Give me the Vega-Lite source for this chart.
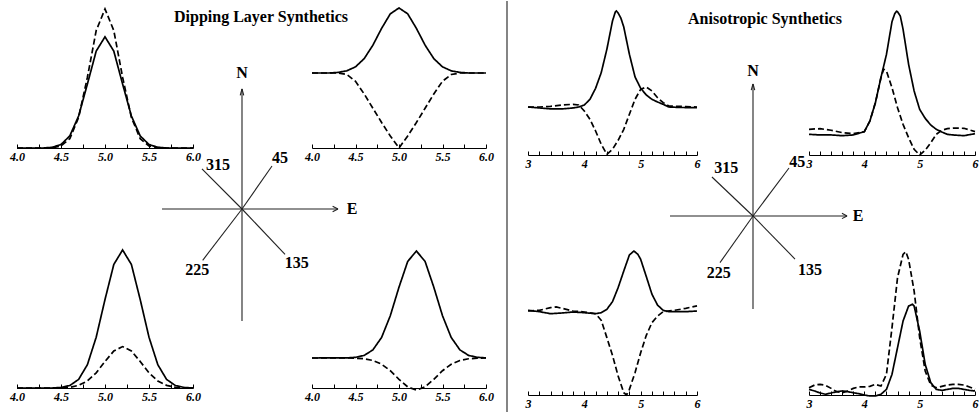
{
  "$schema": "https://vega.github.io/schema/vega-lite/v6.json",
  "background": "white",
  "padding": {"left": 9, "top": 0, "right": 0, "bottom": 0},
  "columns": 7,
  "spacing": {"row": 0, "column": 0},
  "bounds": "flush",
  "align": "each",
  "config": {
    "view": {"stroke": null},
    "axis": {"domainColor": "black", "domainWidth": 1.2, "tickColor": "black", "tickWidth": 1, "tickSize": -4, "labelColor": "black", "labelFont": "Liberation Serif", "labelFontStyle": "italic", "labelFontWeight": "bold", "labelFontSize": 12, "labelPadding": 7, "labelFlush": false, "labelOverlap": false, "grid": false}
  },
  "datasets": {
    "tl": [
      {"x":4.0,"y":0,"s":"solid"},{"x":4.3,"y":0,"s":"solid"},{"x":4.4,"y":0.005,"s":"solid"},{"x":4.5,"y":0.025,"s":"solid"},{"x":4.6,"y":0.087,"s":"solid"},{"x":4.7,"y":0.23,"s":"solid"},{"x":4.8,"y":0.46,"s":"solid"},{"x":4.9,"y":0.697,"s":"solid"},{"x":5.0,"y":0.8,"s":"solid"},{"x":5.1,"y":0.697,"s":"solid"},{"x":5.2,"y":0.46,"s":"solid"},{"x":5.3,"y":0.23,"s":"solid"},{"x":5.4,"y":0.087,"s":"solid"},{"x":5.5,"y":0.025,"s":"solid"},{"x":5.6,"y":0.005,"s":"solid"},{"x":5.7,"y":0,"s":"solid"},{"x":6.0,"y":0,"s":"solid"},
      {"x":4.0,"y":0,"s":"dashed"},{"x":4.3,"y":0,"s":"dashed"},{"x":4.4,"y":0.002,"s":"dashed"},{"x":4.5,"y":0.015,"s":"dashed"},{"x":4.6,"y":0.067,"s":"dashed"},{"x":4.7,"y":0.219,"s":"dashed"},{"x":4.8,"y":0.509,"s":"dashed"},{"x":4.9,"y":0.845,"s":"dashed"},{"x":5.0,"y":1.0,"s":"dashed"},{"x":5.1,"y":0.845,"s":"dashed"},{"x":5.2,"y":0.509,"s":"dashed"},{"x":5.3,"y":0.219,"s":"dashed"},{"x":5.4,"y":0.067,"s":"dashed"},{"x":5.5,"y":0.015,"s":"dashed"},{"x":5.6,"y":0.002,"s":"dashed"},{"x":5.7,"y":0,"s":"dashed"},{"x":6.0,"y":0,"s":"dashed"}
    ],
    "tr": [
      {"x":4.0,"y":0,"s":"solid"},{"x":4.2,"y":0,"s":"solid"},{"x":4.3,"y":0.008,"s":"solid"},{"x":4.4,"y":0.029,"s":"solid"},{"x":4.5,"y":0.082,"s":"solid"},{"x":4.6,"y":0.192,"s":"solid"},{"x":4.7,"y":0.371,"s":"solid"},{"x":4.8,"y":0.595,"s":"solid"},{"x":4.9,"y":0.789,"s":"solid"},{"x":5.0,"y":0.867,"s":"solid"},{"x":5.1,"y":0.789,"s":"solid"},{"x":5.2,"y":0.595,"s":"solid"},{"x":5.3,"y":0.371,"s":"solid"},{"x":5.4,"y":0.192,"s":"solid"},{"x":5.5,"y":0.082,"s":"solid"},{"x":5.6,"y":0.029,"s":"solid"},{"x":5.7,"y":0.008,"s":"solid"},{"x":5.8,"y":0,"s":"solid"},{"x":6.0,"y":0,"s":"solid"},
      {"x":4.0,"y":0,"s":"dashed"},{"x":4.3,"y":0,"s":"dashed"},{"x":4.4,"y":-0.02,"s":"dashed"},{"x":4.5,"y":-0.11,"s":"dashed"},{"x":4.6,"y":-0.28,"s":"dashed"},{"x":4.7,"y":-0.47,"s":"dashed"},{"x":4.8,"y":-0.66,"s":"dashed"},{"x":4.9,"y":-0.84,"s":"dashed"},{"x":5.0,"y":-1.0,"s":"dashed"},{"x":5.1,"y":-0.84,"s":"dashed"},{"x":5.2,"y":-0.66,"s":"dashed"},{"x":5.3,"y":-0.47,"s":"dashed"},{"x":5.4,"y":-0.28,"s":"dashed"},{"x":5.5,"y":-0.11,"s":"dashed"},{"x":5.6,"y":-0.02,"s":"dashed"},{"x":5.7,"y":0,"s":"dashed"},{"x":6.0,"y":0,"s":"dashed"}
    ],
    "bl": [
      {"x":4.0,"y":0,"s":"solid"},{"x":4.4,"y":0,"s":"solid"},{"x":4.5,"y":0.004,"s":"solid"},{"x":4.6,"y":0.018,"s":"solid"},{"x":4.7,"y":0.062,"s":"solid"},{"x":4.8,"y":0.169,"s":"solid"},{"x":4.9,"y":0.368,"s":"solid"},{"x":5.0,"y":0.641,"s":"solid"},{"x":5.1,"y":0.895,"s":"solid"},{"x":5.2,"y":1.0,"s":"solid"},{"x":5.3,"y":0.895,"s":"solid"},{"x":5.4,"y":0.641,"s":"solid"},{"x":5.5,"y":0.368,"s":"solid"},{"x":5.6,"y":0.169,"s":"solid"},{"x":5.7,"y":0.062,"s":"solid"},{"x":5.8,"y":0.018,"s":"solid"},{"x":5.9,"y":0.004,"s":"solid"},{"x":6.0,"y":0,"s":"solid"},
      {"x":4.0,"y":0,"s":"dashed"},{"x":4.5,"y":0,"s":"dashed"},{"x":4.6,"y":0.005,"s":"dashed"},{"x":4.7,"y":0.019,"s":"dashed"},{"x":4.8,"y":0.051,"s":"dashed"},{"x":4.9,"y":0.11,"s":"dashed"},{"x":5.0,"y":0.192,"s":"dashed"},{"x":5.1,"y":0.268,"s":"dashed"},{"x":5.2,"y":0.30,"s":"dashed"},{"x":5.3,"y":0.268,"s":"dashed"},{"x":5.4,"y":0.192,"s":"dashed"},{"x":5.5,"y":0.11,"s":"dashed"},{"x":5.6,"y":0.051,"s":"dashed"},{"x":5.7,"y":0.019,"s":"dashed"},{"x":5.8,"y":0.005,"s":"dashed"},{"x":5.9,"y":0,"s":"dashed"},{"x":6.0,"y":0,"s":"dashed"}
    ],
    "br": [
      {"x":4.0,"y":0,"s":"solid"},{"x":4.4,"y":0.001,"s":"solid"},{"x":4.5,"y":0.006,"s":"solid"},{"x":4.6,"y":0.024,"s":"solid"},{"x":4.7,"y":0.076,"s":"solid"},{"x":4.8,"y":0.192,"s":"solid"},{"x":4.9,"y":0.395,"s":"solid"},{"x":5.0,"y":0.662,"s":"solid"},{"x":5.1,"y":0.902,"s":"solid"},{"x":5.2,"y":1.0,"s":"solid"},{"x":5.3,"y":0.902,"s":"solid"},{"x":5.4,"y":0.662,"s":"solid"},{"x":5.5,"y":0.395,"s":"solid"},{"x":5.6,"y":0.192,"s":"solid"},{"x":5.7,"y":0.076,"s":"solid"},{"x":5.8,"y":0.024,"s":"solid"},{"x":5.9,"y":0.006,"s":"solid"},{"x":6.0,"y":0.001,"s":"solid"},
      {"x":4.0,"y":0,"s":"dashed"},{"x":4.4,"y":0,"s":"dashed"},{"x":4.5,"y":-0.002,"s":"dashed"},{"x":4.6,"y":-0.007,"s":"dashed"},{"x":4.7,"y":-0.023,"s":"dashed"},{"x":4.8,"y":-0.058,"s":"dashed"},{"x":4.9,"y":-0.119,"s":"dashed"},{"x":5.0,"y":-0.199,"s":"dashed"},{"x":5.1,"y":-0.27,"s":"dashed"},{"x":5.2,"y":-0.30,"s":"dashed"},{"x":5.3,"y":-0.27,"s":"dashed"},{"x":5.4,"y":-0.199,"s":"dashed"},{"x":5.5,"y":-0.119,"s":"dashed"},{"x":5.6,"y":-0.058,"s":"dashed"},{"x":5.7,"y":-0.023,"s":"dashed"},{"x":5.8,"y":-0.007,"s":"dashed"},{"x":5.9,"y":-0.002,"s":"dashed"},{"x":6.0,"y":0,"s":"dashed"}
    ],
    "rtl": [
      {"x":3.0,"y":0,"s":"solid"},{"x":3.2,"y":-0.01,"s":"solid"},{"x":3.4,"y":-0.02,"s":"solid"},{"x":3.6,"y":-0.02,"s":"solid"},{"x":3.8,"y":-0.01,"s":"solid"},{"x":3.9,"y":0,"s":"solid"},{"x":4.0,"y":0.021,"s":"solid"},{"x":4.1,"y":0.08,"s":"solid"},{"x":4.2,"y":0.195,"s":"solid"},{"x":4.3,"y":0.358,"s":"solid"},{"x":4.4,"y":0.601,"s":"solid"},{"x":4.5,"y":0.896,"s":"solid"},{"x":4.55,"y":0.99,"s":"solid"},{"x":4.57,"y":1.0,"s":"solid"},{"x":4.6,"y":0.979,"s":"solid"},{"x":4.65,"y":0.924,"s":"solid"},{"x":4.7,"y":0.833,"s":"solid"},{"x":4.8,"y":0.549,"s":"solid"},{"x":4.9,"y":0.313,"s":"solid"},{"x":5.0,"y":0.195,"s":"solid"},{"x":5.1,"y":0.125,"s":"solid"},{"x":5.2,"y":0.08,"s":"solid"},{"x":5.3,"y":0.052,"s":"solid"},{"x":5.4,"y":0.028,"s":"solid"},{"x":5.5,"y":0,"s":"solid"},{"x":5.7,"y":-0.005,"s":"solid"},{"x":6.0,"y":-0.007,"s":"solid"},
      {"x":3.0,"y":0,"s":"dashed"},{"x":3.2,"y":0,"s":"dashed"},{"x":3.4,"y":0.007,"s":"dashed"},{"x":3.6,"y":0.021,"s":"dashed"},{"x":3.8,"y":0.028,"s":"dashed"},{"x":3.9,"y":0.021,"s":"dashed"},{"x":4.0,"y":-0.042,"s":"dashed"},{"x":4.1,"y":-0.128,"s":"dashed"},{"x":4.2,"y":-0.25,"s":"dashed"},{"x":4.3,"y":-0.389,"s":"dashed"},{"x":4.4,"y":-0.493,"s":"dashed"},{"x":4.5,"y":-0.441,"s":"dashed"},{"x":4.6,"y":-0.347,"s":"dashed"},{"x":4.7,"y":-0.233,"s":"dashed"},{"x":4.8,"y":-0.076,"s":"dashed"},{"x":4.9,"y":0.08,"s":"dashed"},{"x":5.0,"y":0.184,"s":"dashed"},{"x":5.1,"y":0.208,"s":"dashed"},{"x":5.2,"y":0.167,"s":"dashed"},{"x":5.3,"y":0.097,"s":"dashed"},{"x":5.4,"y":0.045,"s":"dashed"},{"x":5.5,"y":0.01,"s":"dashed"},{"x":5.8,"y":0.005,"s":"dashed"},{"x":6.0,"y":0,"s":"dashed"}
    ],
    "rtr": [
      {"x":3.0,"y":0,"s":"solid"},{"x":3.2,"y":-0.005,"s":"solid"},{"x":3.4,"y":-0.005,"s":"solid"},{"x":3.6,"y":-0.011,"s":"solid"},{"x":3.8,"y":-0.005,"s":"solid"},{"x":4.0,"y":0.022,"s":"solid"},{"x":4.1,"y":0.108,"s":"solid"},{"x":4.2,"y":0.257,"s":"solid"},{"x":4.3,"y":0.461,"s":"solid"},{"x":4.4,"y":0.65,"s":"solid"},{"x":4.5,"y":0.916,"s":"solid"},{"x":4.55,"y":0.981,"s":"solid"},{"x":4.58,"y":1.0,"s":"solid"},{"x":4.6,"y":0.997,"s":"solid"},{"x":4.65,"y":0.962,"s":"solid"},{"x":4.7,"y":0.854,"s":"solid"},{"x":4.8,"y":0.569,"s":"solid"},{"x":4.9,"y":0.352,"s":"solid"},{"x":5.0,"y":0.203,"s":"solid"},{"x":5.1,"y":0.13,"s":"solid"},{"x":5.2,"y":0.076,"s":"solid"},{"x":5.3,"y":0.041,"s":"solid"},{"x":5.4,"y":0.019,"s":"solid"},{"x":5.5,"y":0,"s":"solid"},{"x":5.6,"y":-0.005,"s":"solid"},{"x":5.8,"y":-0.011,"s":"solid"},{"x":6.0,"y":0.005,"s":"solid"},
      {"x":3.0,"y":0.041,"s":"dashed"},{"x":3.2,"y":0.046,"s":"dashed"},{"x":3.4,"y":0.033,"s":"dashed"},{"x":3.6,"y":0.014,"s":"dashed"},{"x":3.8,"y":0.005,"s":"dashed"},{"x":4.0,"y":0.022,"s":"dashed"},{"x":4.1,"y":0.108,"s":"dashed"},{"x":4.2,"y":0.257,"s":"dashed"},{"x":4.3,"y":0.46,"s":"dashed"},{"x":4.35,"y":0.53,"s":"dashed"},{"x":4.4,"y":0.515,"s":"dashed"},{"x":4.5,"y":0.379,"s":"dashed"},{"x":4.6,"y":0.217,"s":"dashed"},{"x":4.7,"y":0.081,"s":"dashed"},{"x":4.8,"y":-0.027,"s":"dashed"},{"x":4.9,"y":-0.122,"s":"dashed"},{"x":5.0,"y":-0.168,"s":"dashed"},{"x":5.1,"y":-0.13,"s":"dashed"},{"x":5.2,"y":-0.068,"s":"dashed"},{"x":5.3,"y":0,"s":"dashed"},{"x":5.4,"y":0.033,"s":"dashed"},{"x":5.5,"y":0.046,"s":"dashed"},{"x":5.6,"y":0.051,"s":"dashed"},{"x":5.8,"y":0.049,"s":"dashed"},{"x":6.0,"y":0.022,"s":"dashed"}
    ],
    "rbl": [
      {"x":3.0,"y":0.008,"s":"solid"},{"x":3.2,"y":-0.008,"s":"solid"},{"x":3.4,"y":-0.032,"s":"solid"},{"x":3.6,"y":-0.024,"s":"solid"},{"x":3.8,"y":-0.012,"s":"solid"},{"x":4.0,"y":-0.02,"s":"solid"},{"x":4.2,"y":-0.032,"s":"solid"},{"x":4.3,"y":-0.02,"s":"solid"},{"x":4.4,"y":0.02,"s":"solid"},{"x":4.5,"y":0.111,"s":"solid"},{"x":4.6,"y":0.278,"s":"solid"},{"x":4.7,"y":0.476,"s":"solid"},{"x":4.8,"y":0.667,"s":"solid"},{"x":4.88,"y":0.714,"s":"solid"},{"x":4.95,"y":0.675,"s":"solid"},{"x":5.0,"y":0.615,"s":"solid"},{"x":5.1,"y":0.41,"s":"solid"},{"x":5.2,"y":0.2,"s":"solid"},{"x":5.3,"y":0.07,"s":"solid"},{"x":5.4,"y":0.008,"s":"solid"},{"x":5.5,"y":-0.008,"s":"solid"},{"x":5.8,"y":-0.008,"s":"solid"},{"x":6.0,"y":0,"s":"solid"},
      {"x":3.0,"y":0,"s":"dashed"},{"x":3.2,"y":0.008,"s":"dashed"},{"x":3.4,"y":0.04,"s":"dashed"},{"x":3.5,"y":0.048,"s":"dashed"},{"x":3.6,"y":0.032,"s":"dashed"},{"x":3.8,"y":0,"s":"dashed"},{"x":4.0,"y":-0.012,"s":"dashed"},{"x":4.2,"y":-0.032,"s":"dashed"},{"x":4.3,"y":-0.111,"s":"dashed"},{"x":4.4,"y":-0.317,"s":"dashed"},{"x":4.5,"y":-0.528,"s":"dashed"},{"x":4.6,"y":-0.774,"s":"dashed"},{"x":4.7,"y":-0.972,"s":"dashed"},{"x":4.75,"y":-1.0,"s":"dashed"},{"x":4.8,"y":-0.933,"s":"dashed"},{"x":4.9,"y":-0.734,"s":"dashed"},{"x":5.0,"y":-0.496,"s":"dashed"},{"x":5.1,"y":-0.29,"s":"dashed"},{"x":5.2,"y":-0.139,"s":"dashed"},{"x":5.3,"y":-0.06,"s":"dashed"},{"x":5.4,"y":-0.008,"s":"dashed"},{"x":5.6,"y":0.008,"s":"dashed"},{"x":5.8,"y":0.032,"s":"dashed"},{"x":6.0,"y":0.06,"s":"dashed"}
    ],
    "rbr": [
      {"x":3.0,"y":0.039,"s":"solid"},{"x":3.1,"y":0.028,"s":"solid"},{"x":3.2,"y":0.014,"s":"solid"},{"x":3.3,"y":0.005,"s":"solid"},{"x":3.4,"y":0.014,"s":"solid"},{"x":3.5,"y":0.023,"s":"solid"},{"x":3.6,"y":0.028,"s":"solid"},{"x":3.7,"y":0.023,"s":"solid"},{"x":3.8,"y":0.016,"s":"solid"},{"x":3.9,"y":0.009,"s":"solid"},{"x":4.0,"y":0,"s":"solid"},{"x":4.1,"y":-0.007,"s":"solid"},{"x":4.2,"y":-0.007,"s":"solid"},{"x":4.3,"y":0.005,"s":"solid"},{"x":4.4,"y":0.039,"s":"solid"},{"x":4.5,"y":0.144,"s":"solid"},{"x":4.6,"y":0.329,"s":"solid"},{"x":4.7,"y":0.514,"s":"solid"},{"x":4.8,"y":0.618,"s":"solid"},{"x":4.87,"y":0.63,"s":"solid"},{"x":4.9,"y":0.618,"s":"solid"},{"x":5.0,"y":0.444,"s":"solid"},{"x":5.1,"y":0.213,"s":"solid"},{"x":5.2,"y":0.086,"s":"solid"},{"x":5.3,"y":0.039,"s":"solid"},{"x":5.4,"y":0.032,"s":"solid"},{"x":5.5,"y":0.039,"s":"solid"},{"x":5.6,"y":0.046,"s":"solid"},{"x":5.7,"y":0.046,"s":"solid"},{"x":5.8,"y":0.039,"s":"solid"},{"x":5.9,"y":0.032,"s":"solid"},{"x":6.0,"y":0.028,"s":"solid"},
      {"x":3.0,"y":0.051,"s":"dashed"},{"x":3.1,"y":0.069,"s":"dashed"},{"x":3.2,"y":0.074,"s":"dashed"},{"x":3.3,"y":0.067,"s":"dashed"},{"x":3.4,"y":0.046,"s":"dashed"},{"x":3.5,"y":0.023,"s":"dashed"},{"x":3.6,"y":0.016,"s":"dashed"},{"x":3.7,"y":0.028,"s":"dashed"},{"x":3.8,"y":0.046,"s":"dashed"},{"x":3.9,"y":0.056,"s":"dashed"},{"x":4.0,"y":0.056,"s":"dashed"},{"x":4.1,"y":0.06,"s":"dashed"},{"x":4.2,"y":0.074,"s":"dashed"},{"x":4.3,"y":0.0625,"s":"dashed"},{"x":4.4,"y":0.144,"s":"dashed"},{"x":4.5,"y":0.468,"s":"dashed"},{"x":4.6,"y":0.815,"s":"dashed"},{"x":4.7,"y":0.977,"s":"dashed"},{"x":4.75,"y":0.995,"s":"dashed"},{"x":4.8,"y":0.942,"s":"dashed"},{"x":4.9,"y":0.722,"s":"dashed"},{"x":5.0,"y":0.398,"s":"dashed"},{"x":5.1,"y":0.167,"s":"dashed"},{"x":5.2,"y":0.069,"s":"dashed"},{"x":5.3,"y":0.051,"s":"dashed"},{"x":5.4,"y":0.06,"s":"dashed"},{"x":5.5,"y":0.069,"s":"dashed"},{"x":5.6,"y":0.074,"s":"dashed"},{"x":5.7,"y":0.074,"s":"dashed"},{"x":5.8,"y":0.069,"s":"dashed"},{"x":5.9,"y":0.056,"s":"dashed"},{"x":6.0,"y":0.039,"s":"dashed"}
    ],
    "cl_lines": [
      {"x":0,"y":-1.273,"x2":0,"y2":1.364},
      {"x":-0.909,"y":0,"x2":1.091,"y2":0},
      {"x":0,"y":0,"x2":0.341,"y2":0.489},
      {"x":0,"y":0,"x2":-0.455,"y2":0.455},
      {"x":0,"y":0,"x2":0.489,"y2":-0.515},
      {"x":0,"y":0,"x2":-0.447,"y2":-0.583},
      {"x":1.091,"y":0,"x2":1.03,"y2":0.03},
      {"x":1.091,"y":0,"x2":1.03,"y2":-0.03},
      {"x":0,"y":1.364,"x2":-0.02,"y2":1.29},
      {"x":0,"y":1.364,"x2":0.02,"y2":1.29}
    ],
    "cl_labels_top": [
      {"x":0,"y":1.545,"t":"N"},
      {"x":1.25,"y":0,"t":"E"},
      {"x":-0.273,"y":0.5,"t":"315"},
      {"x":0.432,"y":0.576,"t":"45"}
    ],
    "cl_labels_bottom": [
      {"x":0.621,"y":-0.61,"t":"135"},
      {"x":-0.508,"y":-0.697,"t":"225"}
    ],
    "cl_title": [{"x":0.216,"y":2.182,"t":"Dipping Layer Synthetics"}],
    "cr_lines": [
      {"x":0,"y":-1.057,"x2":0,"y2":1.5},
      {"x":-0.943,"y":0,"x2":1.068,"y2":0},
      {"x":0,"y":0,"x2":0.409,"y2":0.545},
      {"x":0,"y":0,"x2":-0.466,"y2":0.443},
      {"x":0,"y":0,"x2":0.477,"y2":-0.489},
      {"x":0,"y":0,"x2":-0.375,"y2":-0.53},
      {"x":1.068,"y":0,"x2":1.01,"y2":0.03},
      {"x":1.068,"y":0,"x2":1.01,"y2":-0.03},
      {"x":0,"y":1.5,"x2":-0.02,"y2":1.43},
      {"x":0,"y":1.5,"x2":0.02,"y2":1.43}
    ],
    "cr_labels_top": [
      {"x":0,"y":1.648,"t":"N"},
      {"x":1.193,"y":0,"t":"E"},
      {"x":-0.303,"y":0.542,"t":"315"},
      {"x":0.503,"y":0.617,"t":"45"}
    ],
    "cr_labels_bottom": [
      {"x":0.648,"y":-0.617,"t":"135"},
      {"x":-0.39,"y":-0.644,"t":"225"}
    ],
    "cr_title": [{"x":0.136,"y":2.239,"t":"Anisotropic Synthetics"}],
    "div": [{"x":0.5,"y":0,"y2":1}]
  },
  "concat": [
    {
      "width": 176, "height": 147, "data": {"name": "tl"},
      "mark": {"type": "line", "color": "black", "strokeWidth": 1.7},
      "encoding": {
        "x": {"field": "x", "type": "quantitative", "scale": {"domain": [4, 6], "nice": false, "zero": false}, "axis": {"title": null, "values": [4,4.25,4.5,4.75,5,5.25,5.5,5.75,6], "labelExpr": "(datum.value*2) % 1 == 0 ? format(datum.value, '.1f') : ''"}},
        "y": {"field": "y", "type": "quantitative", "scale": {"domain": [0, 1.0576], "nice": false, "zero": false}, "axis": null},
        "strokeDash": {"field": "s", "type": "nominal", "scale": {"domain": ["solid", "dashed"], "range": [[1, 0], [6, 3]]}, "legend": null}
      }
    },
    {
      "width": 119, "height": 154,
      "layer": [
        {
          "data": {"name": "cl_lines"},
          "mark": {"type": "rule", "color": "#222", "strokeWidth": 1.1},
          "encoding": {
            "x": {"field": "x", "type": "quantitative", "scale": {"domain": [-0.5568, 0.7955], "nice": false, "zero": false}, "axis": null},
            "y": {"field": "y", "type": "quantitative", "scale": {"domain": [0.6136, 2.3636], "nice": false, "zero": false}, "axis": null},
            "x2": {"field": "x2"}, "y2": {"field": "y2"}
          }
        },
        {
          "data": {"name": "cl_labels_top"},
          "mark": {"type": "text", "font": "Liberation Serif", "fontWeight": "bold", "fontSize": 16, "color": "black", "baseline": "middle", "align": "center"},
          "encoding": {
            "x": {"field": "x", "type": "quantitative", "scale": {"domain": [-0.5568, 0.7955], "nice": false, "zero": false}, "axis": null},
            "y": {"field": "y", "type": "quantitative", "scale": {"domain": [0.6136, 2.3636], "nice": false, "zero": false}, "axis": null},
            "text": {"field": "t"}
          }
        },
        {
          "data": {"name": "cl_title"},
          "mark": {"type": "text", "font": "Liberation Serif", "fontWeight": "bold", "fontSize": 16, "color": "black", "baseline": "middle", "align": "center"},
          "encoding": {
            "x": {"field": "x", "type": "quantitative", "scale": {"domain": [-0.5568, 0.7955], "nice": false, "zero": false}, "axis": null},
            "y": {"field": "y", "type": "quantitative", "scale": {"domain": [0.6136, 2.3636], "nice": false, "zero": false}, "axis": null},
            "text": {"field": "t"}
          }
        }
      ]
    },
    {
      "width": 174, "height": 147, "data": {"name": "tr"},
      "mark": {"type": "line", "color": "black", "strokeWidth": 1.7},
      "encoding": {
        "x": {"field": "x", "type": "quantitative", "scale": {"domain": [4, 6], "nice": false, "zero": false}, "axis": {"title": null, "values": [4,4.25,4.5,4.75,5,5.25,5.5,5.75,6], "labelExpr": "(datum.value*2) % 1 == 0 ? format(datum.value, '.1f') : ''"}},
        "y": {"field": "y", "type": "quantitative", "scale": {"domain": [-1, 0.96], "nice": false, "zero": false}, "axis": null},
        "strokeDash": {"field": "s", "type": "nominal", "scale": {"domain": ["solid", "dashed"], "range": [[1, 0], [6, 3]]}, "legend": null}
      }
    },
    {
      "width": 42, "height": 154, "data": {"name": "div"},
      "mark": {"type": "rule", "color": "#333", "strokeWidth": 1.2},
      "encoding": {
        "x": {"field": "x", "type": "quantitative", "scale": {"domain": [0, 1]}, "axis": null},
        "y": {"field": "y", "type": "quantitative", "scale": {"domain": [0, 1]}, "axis": null},
        "y2": {"field": "y2"}
      }
    },
    {
      "width": 169, "height": 154, "data": {"name": "rtl"},
      "mark": {"type": "line", "color": "black", "strokeWidth": 1.7},
      "encoding": {
        "x": {"field": "x", "type": "quantitative", "scale": {"domain": [3, 6], "nice": false, "zero": false}, "axis": {"title": null, "values": [3,3.2,3.4,3.6,3.8,4,4.2,4.4,4.6,4.8,5,5.2,5.4,5.6,5.8,6], "labelExpr": "abs(datum.value - round(datum.value)) < 0.01 ? format(datum.value, 'd') : ''"}},
        "y": {"field": "y", "type": "quantitative", "scale": {"domain": [-0.5, 1.104], "nice": false, "zero": false}, "axis": null},
        "strokeDash": {"field": "s", "type": "nominal", "scale": {"domain": ["solid", "dashed"], "range": [[1, 0], [6, 3]]}, "legend": null}
      }
    },
    {
      "width": 112, "height": 154,
      "layer": [
        {
          "data": {"name": "cr_lines"},
          "mark": {"type": "rule", "color": "#222", "strokeWidth": 1.1},
          "encoding": {
            "x": {"field": "x", "type": "quantitative", "scale": {"domain": [-0.636, 0.636], "nice": false, "zero": false}, "axis": null},
            "y": {"field": "y", "type": "quantitative", "scale": {"domain": [0.693, 2.443], "nice": false, "zero": false}, "axis": null},
            "x2": {"field": "x2"}, "y2": {"field": "y2"}
          }
        },
        {
          "data": {"name": "cr_labels_top"},
          "mark": {"type": "text", "font": "Liberation Serif", "fontWeight": "bold", "fontSize": 16, "color": "black", "baseline": "middle", "align": "center"},
          "encoding": {
            "x": {"field": "x", "type": "quantitative", "scale": {"domain": [-0.636, 0.636], "nice": false, "zero": false}, "axis": null},
            "y": {"field": "y", "type": "quantitative", "scale": {"domain": [0.693, 2.443], "nice": false, "zero": false}, "axis": null},
            "text": {"field": "t"}
          }
        },
        {
          "data": {"name": "cr_title"},
          "mark": {"type": "text", "font": "Liberation Serif", "fontWeight": "bold", "fontSize": 16, "color": "black", "baseline": "middle", "align": "center"},
          "encoding": {
            "x": {"field": "x", "type": "quantitative", "scale": {"domain": [-0.636, 0.636], "nice": false, "zero": false}, "axis": null},
            "y": {"field": "y", "type": "quantitative", "scale": {"domain": [0.693, 2.443], "nice": false, "zero": false}, "axis": null},
            "text": {"field": "t"}
          }
        }
      ]
    },
    {
      "width": 166, "height": 154, "data": {"name": "rtr"},
      "mark": {"type": "line", "color": "black", "strokeWidth": 1.7},
      "encoding": {
        "x": {"field": "x", "type": "quantitative", "scale": {"domain": [3, 6], "nice": false, "zero": false}, "axis": {"title": null, "values": [3,3.2,3.4,3.6,3.8,4,4.2,4.4,4.6,4.8,5,5.2,5.4,5.6,5.8,6], "labelExpr": "abs(datum.value - round(datum.value)) < 0.01 ? format(datum.value, 'd') : ''"}},
        "y": {"field": "y", "type": "quantitative", "scale": {"domain": [-0.168, 1.084], "nice": false, "zero": false}, "axis": null},
        "strokeDash": {"field": "s", "type": "nominal", "scale": {"domain": ["solid", "dashed"], "range": [[1, 0], [6, 3]]}, "legend": null}
      }
    },
    {
      "width": 176, "height": 233, "data": {"name": "bl"},
      "mark": {"type": "line", "color": "black", "strokeWidth": 1.7},
      "encoding": {
        "x": {"field": "x", "type": "quantitative", "scale": {"domain": [4, 6], "nice": false, "zero": false}, "axis": {"title": null, "values": [4,4.25,4.5,4.75,5,5.25,5.5,5.75,6], "labelExpr": "(datum.value*2) % 1 == 0 ? format(datum.value, '.1f') : ''"}},
        "y": {"field": "y", "type": "quantitative", "scale": {"domain": [0, 1.688], "nice": false, "zero": false}, "axis": null},
        "strokeDash": {"field": "s", "type": "nominal", "scale": {"domain": ["solid", "dashed"], "range": [[1, 0], [6, 3]]}, "legend": null}
      }
    },
    {
      "width": 119, "height": 258, "data": {"name": "cl_labels_bottom"},
      "mark": {"type": "text", "font": "Liberation Serif", "fontWeight": "bold", "fontSize": 16, "color": "black", "baseline": "middle", "align": "center"},
      "encoding": {
        "x": {"field": "x", "type": "quantitative", "scale": {"domain": [-0.5568, 0.7955], "nice": false, "zero": false}, "axis": null},
        "y": {"field": "y", "type": "quantitative", "scale": {"domain": [-2.318, 0.6136], "nice": false, "zero": false}, "axis": null},
        "text": {"field": "t"}
      }
    },
    {
      "width": 174, "height": 233, "data": {"name": "br"},
      "mark": {"type": "line", "color": "black", "strokeWidth": 1.7},
      "encoding": {
        "x": {"field": "x", "type": "quantitative", "scale": {"domain": [4, 6], "nice": false, "zero": false}, "axis": {"title": null, "values": [4,4.25,4.5,4.75,5,5.25,5.5,5.75,6], "labelExpr": "(datum.value*2) % 1 == 0 ? format(datum.value, '.1f') : ''"}},
        "y": {"field": "y", "type": "quantitative", "scale": {"domain": [-0.2804, 1.897], "nice": false, "zero": false}, "axis": null},
        "strokeDash": {"field": "s", "type": "nominal", "scale": {"domain": ["solid", "dashed"], "range": [[1, 0], [6, 3]]}, "legend": null}
      }
    },
    {
      "width": 42, "height": 258, "data": {"name": "div"},
      "mark": {"type": "rule", "color": "#333", "strokeWidth": 1.2},
      "encoding": {
        "x": {"field": "x", "type": "quantitative", "scale": {"domain": [0, 1]}, "axis": null},
        "y": {"field": "y", "type": "quantitative", "scale": {"domain": [0, 1]}, "axis": null},
        "y2": {"field": "y2"}
      }
    },
    {
      "width": 169, "height": 240, "data": {"name": "rbl"},
      "mark": {"type": "line", "color": "black", "strokeWidth": 1.7},
      "encoding": {
        "x": {"field": "x", "type": "quantitative", "scale": {"domain": [3, 6], "nice": false, "zero": false}, "axis": {"title": null, "values": [3,3.2,3.4,3.6,3.8,4,4.2,4.4,4.6,4.8,5,5.2,5.4,5.6,5.8,6], "labelExpr": "abs(datum.value - round(datum.value)) < 0.01 ? format(datum.value, 'd') : ''"}},
        "y": {"field": "y", "type": "quantitative", "scale": {"domain": [-1.0, 1.857], "nice": false, "zero": false}, "axis": null},
        "strokeDash": {"field": "s", "type": "nominal", "scale": {"domain": ["solid", "dashed"], "range": [[1, 0], [6, 3]]}, "legend": null}
      }
    },
    {
      "width": 112, "height": 258, "data": {"name": "cr_labels_bottom"},
      "mark": {"type": "text", "font": "Liberation Serif", "fontWeight": "bold", "fontSize": 16, "color": "black", "baseline": "middle", "align": "center"},
      "encoding": {
        "x": {"field": "x", "type": "quantitative", "scale": {"domain": [-0.636, 0.636], "nice": false, "zero": false}, "axis": null},
        "y": {"field": "y", "type": "quantitative", "scale": {"domain": [-2.239, 0.693], "nice": false, "zero": false}, "axis": null},
        "text": {"field": "t"}
      }
    },
    {
      "width": 166, "height": 240, "data": {"name": "rbr"},
      "mark": {"type": "line", "color": "black", "strokeWidth": 1.7},
      "encoding": {
        "x": {"field": "x", "type": "quantitative", "scale": {"domain": [3, 6], "nice": false, "zero": false}, "axis": {"title": null, "values": [3,3.2,3.4,3.6,3.8,4,4.2,4.4,4.6,4.8,5,5.2,5.4,5.6,5.8,6], "labelExpr": "abs(datum.value - round(datum.value)) < 0.01 ? format(datum.value, 'd') : ''"}},
        "y": {"field": "y", "type": "quantitative", "scale": {"domain": [0, 1.667], "nice": false, "zero": false}, "axis": null},
        "strokeDash": {"field": "s", "type": "nominal", "scale": {"domain": ["solid", "dashed"], "range": [[1, 0], [6, 3]]}, "legend": null}
      }
    }
  ]
}
